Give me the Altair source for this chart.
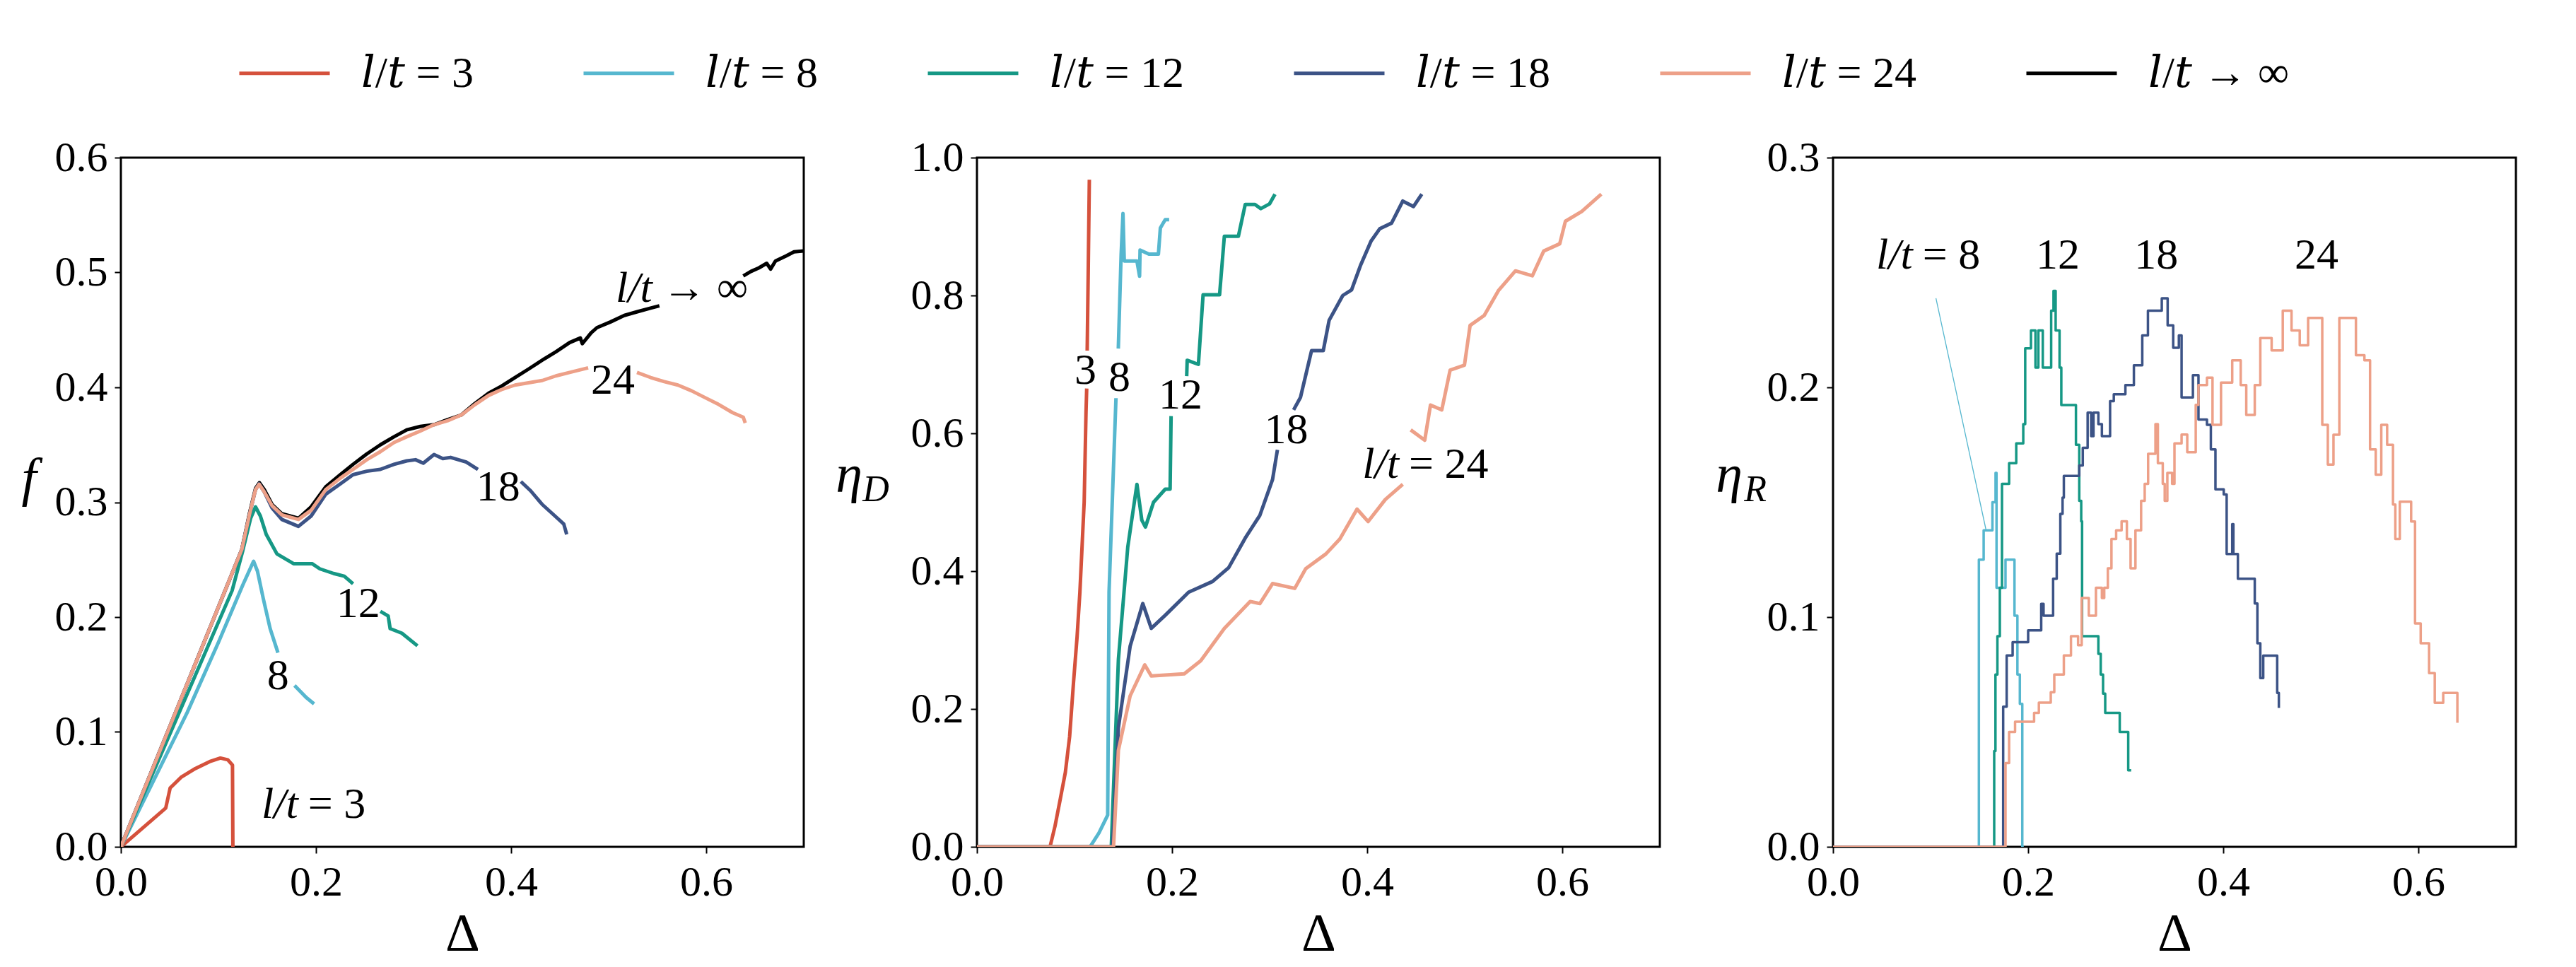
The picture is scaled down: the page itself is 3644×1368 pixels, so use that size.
import altair as alt
import pandas as pd

FONT = "Liberation Serif, DejaVu Serif, Times New Roman, serif"

SERIES = ["𝑙/𝑡 = 3", "𝑙/𝑡 = 8", "𝑙/𝑡 = 12", "𝑙/𝑡 = 18", "𝑙/𝑡 = 24", "𝑙/𝑡 → ∞"]
COLORS = ["#D5513C", "#56B7CF", "#169885", "#3C5386", "#EDA088", "#000000"]
DRAW_ORDER = [5, 0, 1, 2, 3, 4]

X_TICKS = [0.0, 0.2, 0.4, 0.6]

# ---------------- panel 1: f vs Delta (segments split where labels sit) ----------
F3 = [[(0, 0), (0.046, 0.0338), (0.0476, 0.040), (0.0505, 0.0512), (0.0616, 0.0605),
       (0.0764, 0.0682), (0.091, 0.0742), (0.102, 0.0773), (0.1096, 0.0758),
       (0.1144, 0.0711), (0.1148, 0.0)]]
F8 = [[(0, 0), (0.068, 0.117), (0.1, 0.178), (0.125, 0.228), (0.136, 0.2486), (0.14, 0.24),
       (0.146, 0.216), (0.153, 0.19), (0.161, 0.169)],
      [(0.178, 0.1405), (0.19, 0.13), (0.198, 0.1245)]]
F12 = [[(0, 0), (0.114, 0.223), (0.125, 0.258), (0.133, 0.286), (0.138, 0.296), (0.143, 0.288),
        (0.149, 0.272), (0.16, 0.255), (0.177, 0.2465), (0.196, 0.2465), (0.204, 0.242),
        (0.218, 0.238), (0.229, 0.2356), (0.238, 0.229)],
       [(0.266, 0.205), (0.274, 0.201), (0.276, 0.19), (0.288, 0.186), (0.304, 0.175)]]
F18 = [[(0, 0), (0.124, 0.259), (0.132, 0.29), (0.138, 0.311), (0.1417, 0.316), (0.147, 0.309),
        (0.155, 0.295), (0.165, 0.285), (0.182, 0.279), (0.195, 0.288), (0.21, 0.307),
        (0.225, 0.316), (0.238, 0.324), (0.252, 0.327), (0.266, 0.3286), (0.28, 0.333),
        (0.293, 0.336), (0.302, 0.337), (0.31, 0.334), (0.321, 0.3415), (0.33, 0.338),
        (0.338, 0.339), (0.354, 0.335), (0.366, 0.3286)],
       [(0.41, 0.318), (0.42, 0.31), (0.432, 0.298), (0.445, 0.288), (0.454, 0.281), (0.457, 0.272)]]
F24 = [[(0, 0), (0.124, 0.259), (0.132, 0.29), (0.138, 0.311), (0.1417, 0.3156), (0.147, 0.309),
        (0.155, 0.297), (0.165, 0.289), (0.182, 0.285), (0.195, 0.293), (0.21, 0.311),
        (0.225, 0.321), (0.238, 0.3286), (0.252, 0.337), (0.266, 0.344), (0.28, 0.352),
        (0.293, 0.357), (0.307, 0.362), (0.321, 0.3675), (0.335, 0.371), (0.349, 0.376),
        (0.363, 0.385), (0.377, 0.393), (0.39, 0.398), (0.404, 0.402), (0.418, 0.404),
        (0.432, 0.406), (0.446, 0.41), (0.46, 0.413), (0.479, 0.417)],
       [(0.529, 0.413), (0.543, 0.4086), (0.557, 0.405), (0.571, 0.402), (0.585, 0.397),
        (0.599, 0.391), (0.613, 0.385), (0.627, 0.378), (0.638, 0.374), (0.64, 0.369)]]
FINF = [[(0, 0), (0.124, 0.259), (0.132, 0.291), (0.138, 0.312), (0.142, 0.317), (0.147, 0.311),
         (0.155, 0.298), (0.165, 0.29), (0.182, 0.286), (0.195, 0.296), (0.21, 0.3134),
         (0.225, 0.324), (0.238, 0.333), (0.252, 0.342), (0.266, 0.35), (0.28, 0.357),
         (0.293, 0.363), (0.307, 0.366), (0.321, 0.3675), (0.335, 0.372), (0.349, 0.376),
         (0.363, 0.386), (0.377, 0.395), (0.39, 0.401), (0.404, 0.4085), (0.418, 0.416),
         (0.432, 0.4237), (0.446, 0.431), (0.46, 0.439), (0.471, 0.443), (0.473, 0.438),
         (0.482, 0.4475), (0.488, 0.452), (0.502, 0.457), (0.516, 0.4626), (0.53, 0.466),
         (0.543, 0.469), (0.552, 0.471)],
        [(0.638, 0.497), (0.646, 0.501), (0.654, 0.504), (0.662, 0.508), (0.666, 0.503),
         (0.671, 0.51), (0.682, 0.5145), (0.69, 0.518), (0.702, 0.519)]]

# ---------------- panel 2: eta_D vs Delta ----------------
D3 = [[(0, 0), (0.0749, 0.0), (0.08, 0.03), (0.0855, 0.07), (0.0906, 0.108), (0.095, 0.16),
       (0.099, 0.239), (0.1026, 0.304), (0.1055, 0.369), (0.1099, 0.5), (0.1118, 0.631),
       (0.1125, 0.665)],
      [(0.113, 0.72), (0.114, 0.828), (0.1152, 0.968)]]
D8 = [[(0, 0), (0.1159, 0), (0.125, 0.02), (0.134, 0.046), (0.1354, 0.37), (0.1425, 0.651)],
      [(0.1449, 0.723), (0.1478, 0.86), (0.1497, 0.919), (0.151, 0.85), (0.164, 0.85),
       (0.1667, 0.828), (0.1672, 0.866), (0.1763, 0.86), (0.186, 0.86), (0.188, 0.898),
       (0.193, 0.91), (0.197, 0.91)]]
D12 = [[(0, 0), (0.1377, 0), (0.145, 0.272), (0.1546, 0.435), (0.164, 0.526), (0.169, 0.474),
        (0.1727, 0.464), (0.181, 0.5), (0.193, 0.519), (0.198, 0.519), (0.199, 0.625)],
       [(0.215, 0.683), (0.2155, 0.706), (0.227, 0.70), (0.2318, 0.801), (0.2487, 0.801),
        (0.2536, 0.886), (0.268, 0.886), (0.275, 0.932), (0.285, 0.932), (0.291, 0.926),
        (0.3, 0.933), (0.3055, 0.947)]]
D18 = [[(0, 0), (0.139, 0), (0.145, 0.173), (0.157, 0.291), (0.170, 0.353), (0.1787, 0.317),
        (0.193, 0.336), (0.217, 0.3695), (0.2415, 0.385), (0.258, 0.405), (0.275, 0.448),
        (0.29, 0.481), (0.303, 0.533), (0.308, 0.576)],
       [(0.3246, 0.634), (0.3316, 0.652), (0.343, 0.72), (0.355, 0.72), (0.361, 0.764),
        (0.375, 0.8), (0.384, 0.808), (0.393, 0.843), (0.404, 0.879), (0.413, 0.897),
        (0.425, 0.905), (0.4365, 0.937), (0.4475, 0.929), (0.456, 0.947)]]
D24 = [[(0, 0), (0.14, 0), (0.145, 0.14), (0.157, 0.219), (0.172, 0.264), (0.1787, 0.248),
        (0.2125, 0.251), (0.2294, 0.27), (0.2536, 0.317), (0.28, 0.356), (0.29, 0.353),
        (0.303, 0.382), (0.3258, 0.375), (0.337, 0.4035), (0.3577, 0.425), (0.372, 0.4467),
        (0.3896, 0.49), (0.401, 0.472), (0.4186, 0.504), (0.4365, 0.526)],
       [(0.4446, 0.605), (0.459, 0.59), (0.4649, 0.641), (0.4765, 0.634), (0.485, 0.6916),
        (0.4997, 0.6988), (0.5055, 0.7565), (0.52, 0.771), (0.5345, 0.807), (0.552, 0.8357),
        (0.5693, 0.8285), (0.581, 0.8645), (0.5974, 0.875), (0.6032, 0.9077), (0.62, 0.922),
        (0.64, 0.947)]]

# ---------------- panel 3: eta_R vs Delta (step-after points) ----------------
R8 = [[(0, 0), (0.1495, 0.125), (0.1544, 0.1378), (0.1634, 0.15), (0.1666, 0.1628),
       (0.1676, 0.1128), (0.1768, 0.125), (0.186, 0.1006), (0.189, 0.075), (0.1915, 0.0622),
       (0.194, 0.0), (0.1955, 0.0)]]
R12 = [[(0, 0), (0.1646, 0.0), (0.1652, 0.0417), (0.1665, 0.075), (0.1685, 0.0917),
        (0.171, 0.1128), (0.1732, 0.158), (0.1805, 0.167), (0.1878, 0.1756), (0.195, 0.184),
        (0.197, 0.217), (0.2029, 0.2248), (0.2075, 0.2086), (0.2105, 0.2248), (0.215, 0.2086),
        (0.2236, 0.2334), (0.226, 0.242), (0.2282, 0.2248), (0.2322, 0.2086), (0.234, 0.1923),
        (0.249, 0.175), (0.2524, 0.1506), (0.2544, 0.1417), (0.2553, 0.0917), (0.272, 0.084),
        (0.2744, 0.075), (0.2768, 0.0667), (0.279, 0.0583), (0.2939, 0.05), (0.3026, 0.0333),
        (0.3056, 0.0333)]]
R18 = [[(0, 0), (0.172, 0), (0.1744, 0.061), (0.178, 0.0833), (0.1841, 0.0891), (0.2, 0.0942),
        (0.2134, 0.1058), (0.2158, 0.1006), (0.2256, 0.1167), (0.2293, 0.1276), (0.233, 0.1449),
        (0.2353, 0.152), (0.2366, 0.1615), (0.2524, 0.166), (0.256, 0.1737), (0.261, 0.189),
        (0.2646, 0.1788), (0.267, 0.189), (0.272, 0.184), (0.2756, 0.1788), (0.284, 0.194),
        (0.2878, 0.197), (0.2997, 0.201), (0.3084, 0.2096), (0.317, 0.2226), (0.3228, 0.2334),
        (0.337, 0.2388), (0.343, 0.227), (0.3487, 0.2172), (0.3545, 0.2226), (0.3573, 0.1956),
        (0.3689, 0.2053), (0.3746, 0.186), (0.3833, 0.1837), (0.3873, 0.173), (0.392, 0.1556),
        (0.4005, 0.1534), (0.4035, 0.1275), (0.4092, 0.1405), (0.4104, 0.1275), (0.415, 0.1167),
        (0.4323, 0.1059), (0.435, 0.0886), (0.438, 0.0735), (0.441, 0.0832), (0.4553, 0.067),
        (0.457, 0.0605)]]
R24 = [[(0, 0), (0.173, 0), (0.1768, 0.0365), (0.1805, 0.05), (0.1866, 0.0545), (0.2061, 0.0583),
        (0.211, 0.0628), (0.2232, 0.0673), (0.2268, 0.075), (0.2366, 0.0833), (0.2439, 0.0917),
        (0.2512, 0.0878), (0.2549, 0.1083), (0.2622, 0.1006), (0.2695, 0.1128), (0.2756, 0.1083),
        (0.278, 0.1128), (0.2817, 0.1212), (0.2854, 0.134), (0.2902, 0.1378), (0.2958, 0.1417),
        (0.3012, 0.134), (0.305, 0.1212), (0.31, 0.1378), (0.3158, 0.1506), (0.3195, 0.158),
        (0.323, 0.1711), (0.3305, 0.184), (0.333, 0.167), (0.338, 0.158), (0.34, 0.1506),
        (0.3427, 0.1628), (0.3476, 0.158), (0.35, 0.1756), (0.3573, 0.1795), (0.3631, 0.1718),
        (0.3718, 0.1924), (0.3746, 0.201), (0.3833, 0.2042), (0.389, 0.1837), (0.3977, 0.2021),
        (0.4092, 0.2118), (0.4179, 0.201), (0.4236, 0.188), (0.4323, 0.201), (0.438, 0.2215),
        (0.4496, 0.2161), (0.461, 0.2334), (0.47, 0.2248), (0.4784, 0.2183), (0.487, 0.2302),
        (0.5015, 0.1837), (0.5072, 0.1664), (0.513, 0.1794), (0.519, 0.2302), (0.536, 0.214),
        (0.5447, 0.2118), (0.5505, 0.173), (0.5563, 0.162), (0.562, 0.1837), (0.568, 0.175),
        (0.574, 0.149), (0.5764, 0.134), (0.581, 0.1502), (0.5926, 0.1416), (0.5966, 0.0972),
        (0.6024, 0.0886), (0.611, 0.0756), (0.6168, 0.0627), (0.6255, 0.067), (0.64, 0.054)]]

# leader line from the "l/t = 8" label in panel 3
LEADER = {"x": [0.1055], "y": [0.2388], "x2": [0.1568], "y2": [0.138]}

# annotations: (x, y, text)
ANN1_NUM = [(0.161, 0.149, "8"), (0.2433, 0.212, "12"), (0.3867, 0.3134, "18"), (0.5044, 0.4064, "24")]
ANN1_IT = [(0.186, 0.037, "l/t"), (0.549, 0.486, "l/t")]
ANN1_UP = [(0.186, 0.037, "= 3"), (0.549, 0.486, "→ ∞")]

ANN2_NUM = [(0.1113, 0.6916, "3"), (0.146, 0.681, "8"), (0.2087, 0.6556, "12"), (0.317, 0.605, "18")]
ANN2_IT = [(0.437, 0.555, "l/t")]
ANN2_UP = [(0.437, 0.555, "= 24")]

ANN3_NUM = [(0.2305, 0.2576, "12"), (0.3314, 0.2576, "18"), (0.4957, 0.2576, "24")]
ANN3_IT = [(0.086, 0.2576, "l/t")]
ANN3_UP = [(0.086, 0.2576, "= 8")]


def frame(panel_series):
    rows = []
    for k in DRAW_ORDER:
        segs = panel_series.get(k)
        if not segs:
            continue
        for si, seg in enumerate(segs):
            for i, (x, y) in enumerate(seg):
                rows.append({"series": SERIES[k], "seg": f"{k}-{si}", "i": i, "x": x, "y": y})
    return pd.DataFrame(rows)


def ann_df(items):
    return pd.DataFrame([{"x": x, "y": y, "t": t} for x, y, t in items])


def xenc():
    return alt.X("x:Q", scale=alt.Scale(domain=[0, 0.7], nice=False, zero=False),
                 axis=alt.Axis(values=X_TICKS, format=".1f", title="Δ", labelFlush=False))


def yenc(dom, ticks):
    return alt.Y("y:Q", scale=alt.Scale(domain=dom, nice=False, zero=False),
                 axis=alt.Axis(values=ticks, format=".1f", title=None, labelFlush=False))


color = alt.Color(
    "series:N",
    scale=alt.Scale(domain=SERIES, range=COLORS),
    legend=alt.Legend(
        orient="none", legendX=165, legendY=-186, direction="horizontal", columns=6,
        title=None, symbolType="stroke", symbolSize=16384, symbolStrokeWidth=5,
        labelFont=FONT, labelFontSize=62, labelOffset=42, columnPadding=145,
        padding=0, labelLimit=0, symbolOpacity=1,
    ),
)


def panel(series_dict, dom, ticks, stroke, interp, nums, its, ups, ytitle, extra=None):
    df = frame(series_dict)
    X = xenc()
    Y = yenc(dom, ticks)
    lines = alt.Chart(df).mark_line(strokeWidth=stroke, interpolate=interp, clip=True,
                                    strokeJoin="round").encode(
        x=X, y=Y, color=color, detail="seg:N", order="i:Q")
    layers = [lines]
    if extra is not None:
        layers.append(extra(X, Y))
    layers.append(alt.Chart(ann_df(nums)).mark_text(
        font=FONT, fontSize=62, align="center", baseline="middle", color="black").encode(
        x=X, y=Y, text="t:N"))
    layers.append(alt.Chart(ann_df(its)).mark_text(
        font=FONT, fontSize=62, fontStyle="italic", align="right", baseline="middle",
        dx=-6, color="black").encode(x=X, y=Y, text="t:N"))
    layers.append(alt.Chart(ann_df(ups)).mark_text(
        font=FONT, fontSize=62, align="left", baseline="middle", dx=8, color="black").encode(
        x=X, y=Y, text="t:N"))
    # y-axis title pieces (main symbol + subscript)
    for (txt, px, py, fs) in ytitle:
        layers.append(alt.Chart(pd.DataFrame({"t": [txt]})).mark_text(
            font=FONT, fontSize=fs, fontStyle="italic", align="center", baseline="middle",
            color="black").encode(x=alt.value(px), y=alt.value(py), text="t:N"))
    return alt.layer(*layers).properties(width=966, height=975)


def leader(X, Y):
    return alt.Chart(pd.DataFrame(LEADER)).mark_rule(color=COLORS[1], strokeWidth=1.3).encode(
        x=X, y=Y, x2="x2:Q", y2="y2:Q")


p1 = panel({0: F3, 1: F8, 2: F12, 3: F18, 4: F24, 5: FINF}, [0, 0.6],
           [0, 0.1, 0.2, 0.3, 0.4, 0.5, 0.6], 5, "linear",
           ANN1_NUM, ANN1_IT, ANN1_UP, [("f", -130, 455, 76)])
p2 = panel({0: D3, 1: D8, 2: D12, 3: D18, 4: D24}, [0, 1.0],
           [0, 0.2, 0.4, 0.6, 0.8, 1.0], 5, "linear",
           ANN2_NUM, ANN2_IT, ANN2_UP, [("η", -181, 450, 76), ("D", -143, 470, 52)])
p3 = panel({1: R8, 2: R12, 3: R18, 4: R24}, [0, 0.3],
           [0, 0.1, 0.2, 0.3], 3.5, "step-after",
           ANN3_NUM, ANN3_IT, ANN3_UP, [("η", -147, 450, 76), ("R", -110, 470, 52)],
           extra=leader)

chart = alt.hconcat(p1, p2, p3, spacing=245, bounds="flush").properties(
    padding={"left": 20, "top": 29, "right": 10, "bottom": 5}
).configure_view(stroke="black", strokeWidth=3).configure_axis(
    labelFont=FONT, labelFontSize=60, labelColor="black", tickColor="black", tickWidth=2,
    tickSize=9, domain=False, grid=False, titleFont=FONT, titleFontSize=76,
    titleFontWeight="normal", titleColor="black", labelPadding=10, titlePadding=6,
).configure_axisX(labelPadding=12)

chart.save("out.html", embed_options={"renderer": "svg", "actions": False})
